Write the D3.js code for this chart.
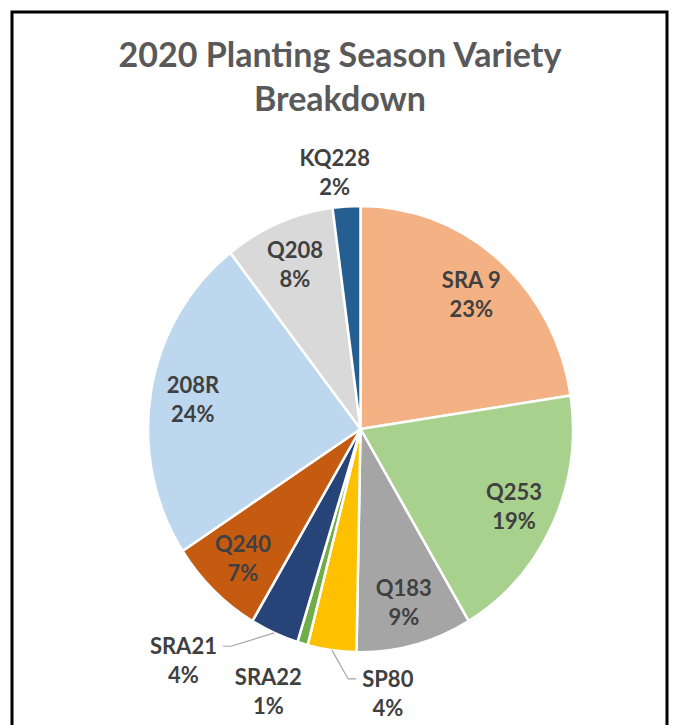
<!DOCTYPE html>
<html>
<head>
<meta charset="utf-8">
<script src="https://cdn.jsdelivr.net/npm/d3@7"></script>
<style>
  body { margin: 0; background: #fff; }
  svg { display: block; }
  text { font-family: Lato, 'Open Sans', sans-serif; font-weight: bold; }
</style>
</head>
<body>
<div id="chart"></div>
<script>
// data
const varieties = ['SRA 9', 'Q253', 'Q183', 'SP80', 'SRA22', 'SRA21', 'Q240', '208R', 'Q208', 'KQ228'];
const shares = [22.6, 18.9, 8.8, 3.7, 0.8, 3.7, 7.3, 23.7, 8.4, 2.1];
const colors = ['#F4B183', '#A9D18E', '#A5A5A5', '#FFC000', '#70AD47', '#264478', '#C55A11', '#BDD7EE', '#D9D9D9', '#255E91'];
const titleLines = ['2020 Planting Season Variety', 'Breakdown'];

const width = 676;
const height = 725;
const cx = 360.5;
const cy = 429;
const radius = 212.5;
const squash = 1.05; // picture is a bit taller than wide

// small slices get their label outside (angle in degrees from top, radius factor)
const outside = {
  KQ228: { angle: 354, r: 1.16 },
  SRA21: { angle: 218.8, r: 1.33, leader: 'left' },
  SRA22: { angle: 200.3, r: 1.25 },
  SP80: { angle: 173.8, r: 1.19, leader: 'right' },
};

const data = varieties.map((name, i) => ({ name, value: shares[i], color: colors[i] }));

const svg = d3.select('#chart')
  .append('svg')
  .attr('width', width)
  .attr('height', height);

// chart border
svg.append('rect')
  .attr('x', 12)
  .attr('y', 12)
  .attr('width', 655)
  .attr('height', 740)
  .attr('fill', 'none')
  .attr('stroke', '#000')
  .attr('stroke-width', 3);

// title
svg.append('text')
  .attr('x', 340)
  .attr('y', 67)
  .attr('text-anchor', 'middle')
  .attr('fill', '#595959')
  .style('font-size', '34px')
  .selectAll('tspan')
  .data(titleLines)
  .join('tspan')
  .attr('x', 340)
  .attr('dy', (d, i) => (i === 0 ? 0 : 44))
  .text((d) => d);

const pie = d3.pie().sort(null).value((d) => d.value);
const arcs = pie(data);
const arc = d3.arc().innerRadius(0).outerRadius(radius);

const pieG = svg.append('g')
  .attr('transform', `translate(${cx},${cy}) scale(1,${squash})`);

pieG.selectAll('path')
  .data(arcs)
  .join('path')
  .attr('d', arc)
  .attr('fill', (d) => d.data.color)
  .attr('stroke', '#fff')
  .attr('stroke-width', 2.5)
  .attr('vector-effect', 'non-scaling-stroke');

// turn a polar point (radians from top, px) into page coords
function toPage(angle, r) {
  return [cx + r * Math.sin(angle), cy - r * Math.cos(angle) * squash];
}

const total = d3.sum(shares);
const fmt = (v) => Math.round((v / total) * 100) + '%';

const labels = svg.append('g')
  .attr('fill', '#404040')
  .style('font-size', '22px')
  .attr('text-anchor', 'middle');

arcs.forEach((a) => {
  const name = a.data.name;
  const mid = (a.startAngle + a.endAngle) / 2;
  const o = outside[name];
  const [x, y] = o
    ? toPage((o.angle * Math.PI) / 180, o.r * radius)
    : toPage(mid, 0.8 * radius);

  const t = labels.append('text')
    .attr('x', x)
    .attr('y', y - 14 + 8);
  t.append('tspan').attr('x', x).text(name);
  t.append('tspan').attr('x', x).attr('dy', 29).text(fmt(a.data.value));

  if (o && o.leader) {
    const w = t.select('tspan').node().getComputedTextLength();
    const ly = y - 14;
    const side = o.leader === 'left' ? 1 : -1;
    const endX = x + side * (w / 2 + 6);
    const elbowX = endX + side * 8;
    const [ex, ey] = toPage(mid, radius);
    svg.append('polyline')
      .attr('points', [[ex, ey], [elbowX, ly], [endX, ly]].map((p) => p.join(',')).join(' '))
      .attr('fill', 'none')
      .attr('stroke', '#A6A6A6')
      .attr('stroke-width', 1.2);
  }
});
</script>
</body>
</html>
